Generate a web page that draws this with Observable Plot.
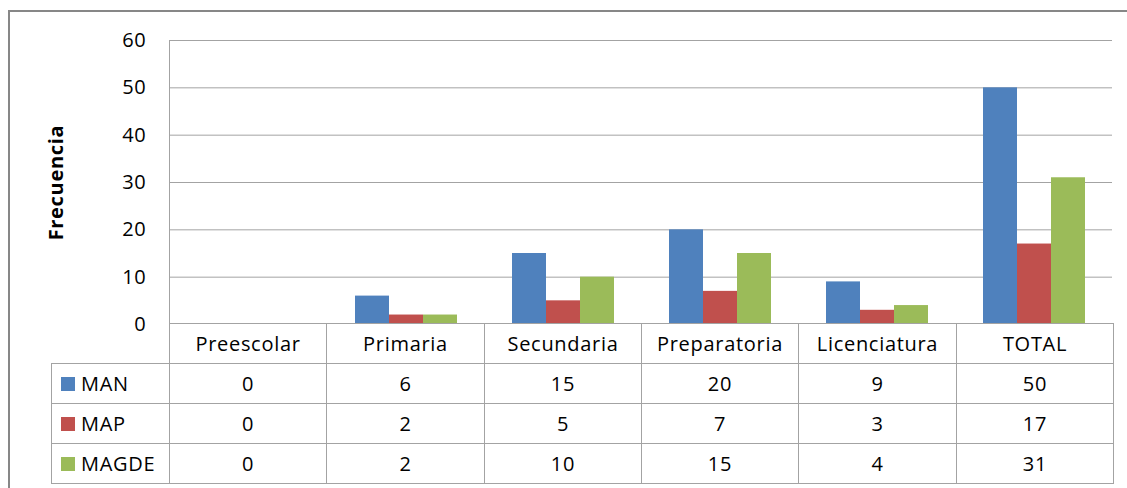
<!DOCTYPE html>
<html><head><meta charset="utf-8">
<script src="https://cdn.jsdelivr.net/npm/d3@7"></script>
<script src="https://cdn.jsdelivr.net/npm/@observablehq/plot@0.6"></script>
<style>
body{margin:0;background:#fff;}
#wrap{position:relative;width:1127px;height:488px;overflow:hidden;background:#fff;font-family:"Open Sans",sans-serif;}
#border{position:absolute;left:8px;top:10px;width:1300px;height:700px;border-left:2px solid #878787;border-top:2px solid #878787;box-sizing:border-box;}
.layer{position:absolute;left:0;top:0;}
.layer svg{overflow:visible;}
svg text{letter-spacing:0.7px;}
g[aria-label="y-axis label"] text{font-weight:bold;}
.cell{position:absolute;box-sizing:border-box;border:1px solid #a3a3a3;display:flex;align-items:center;justify-content:center;font-size:20px;color:#000;letter-spacing:0.7px;white-space:nowrap;}
.leg{justify-content:flex-start;}
.sw{width:14px;height:14px;margin-left:9px;margin-right:6px;flex:none;}
</style>
</head><body>
<div id="wrap"><div id="border"></div><div id="chart" class="layer"></div><div id="axisline" class="layer"></div><div id="table" class="layer"></div></div>
<script>
const categories = ["Preescolar","Primaria","Secundaria","Preparatoria","Licenciatura","TOTAL"];
const series = ["MAN","MAP","MAGDE"];
const valuesMAN = [0,6,15,20,9,50];
const valuesMAP = [0,2,5,7,3,17];
const valuesMAGDE = [0,2,10,15,4,31];
const colors = ["#4F81BD","#C0504D","#9BBB59"];
const yTicks = [0,10,20,30,40,50,60];
const yLabel = "Frecuencia";

const seriesValues = [valuesMAN, valuesMAP, valuesMAGDE];
const data = categories.flatMap((c,i)=>series.map((s,j)=>({cat:c, series:s, value:seriesValues[j][i]})));

const W = 1127, H = 488, ML = 169, MR = 14, MT = 40, MB = 164;
const fontFamily = '"Open Sans", sans-serif';

const chart = Plot.plot({
  width: W, height: H, marginLeft: ML, marginRight: MR, marginTop: MT, marginBottom: MB,
  style: {fontFamily, fontSize: "20px", background: "none", color: "#000", overflow: "visible"},
  fx: {domain: categories, padding: 0, axis: null, label: null},
  x: {domain: series, paddingInner: 0, paddingOuter: 0.75, axis: null},
  y: {domain: [0, 60], axis: null},
  color: {domain: series, range: colors},
  marks: [
    Plot.ruleY(yTicks.slice(1), {stroke: "#a3a3a3", strokeWidth: 1}),
    Plot.barY(data, {fx: "cat", x: "series", y: "value", fill: "series"}),
    Plot.axisY(yTicks, {tickSize: 0, tickPadding: 24, label: yLabel, labelAnchor: "center", labelArrow: "none", labelOffset: 122, fontSize: 20, fill: "#000"})
  ]
});
document.getElementById("chart").appendChild(chart);

const axisLine = Plot.plot({
  width: W, height: H, marginLeft: ML, marginRight: MR, marginTop: MT, marginBottom: MB,
  style: {background: "none", overflow: "visible"},
  x: {domain: [0, categories.length], axis: null},
  y: {domain: [0, 60], axis: null},
  marks: [Plot.ruleX([0], {y1: 0, y2: 60, stroke: "#a3a3a3"})]
});
document.getElementById("axisline").appendChild(axisLine);

// data table under the chart
const tbl = document.getElementById("table");
const colW = (W - MR - ML) / categories.length;
const legLeft = 51, rowTop = 323, headH = 40, rowH = 40;
function cell(x, y, w, h, html, cls) {
  const d = document.createElement("div");
  d.className = "cell" + (cls ? " " + cls : "");
  d.style.left = x + "px"; d.style.top = y + "px";
  d.style.width = w + "px"; d.style.height = h + "px";
  d.innerHTML = html;
  tbl.appendChild(d);
  return d;
}
categories.forEach((c, i) => {
  const x0 = Math.round(ML + i * colW), x1 = Math.round(ML + (i + 1) * colW);
  cell(x0, rowTop, x1 - x0 + 1, headH + 1, c);
});
series.forEach((s, j) => {
  const y0 = rowTop + headH + j * rowH;
  const lc = cell(legLeft, y0, ML - legLeft + 1, rowH + 1, "", "leg");
  const sw = document.createElement("span"); sw.className = "sw"; sw.style.background = colors[j];
  const tx = document.createElement("span"); tx.textContent = s;
  lc.appendChild(sw); lc.appendChild(tx);
  categories.forEach((c, i) => {
    const x0 = Math.round(ML + i * colW), x1 = Math.round(ML + (i + 1) * colW);
    cell(x0, y0, x1 - x0 + 1, rowH + 1, String(seriesValues[j][i]));
  });
});
</script>
</body></html>
